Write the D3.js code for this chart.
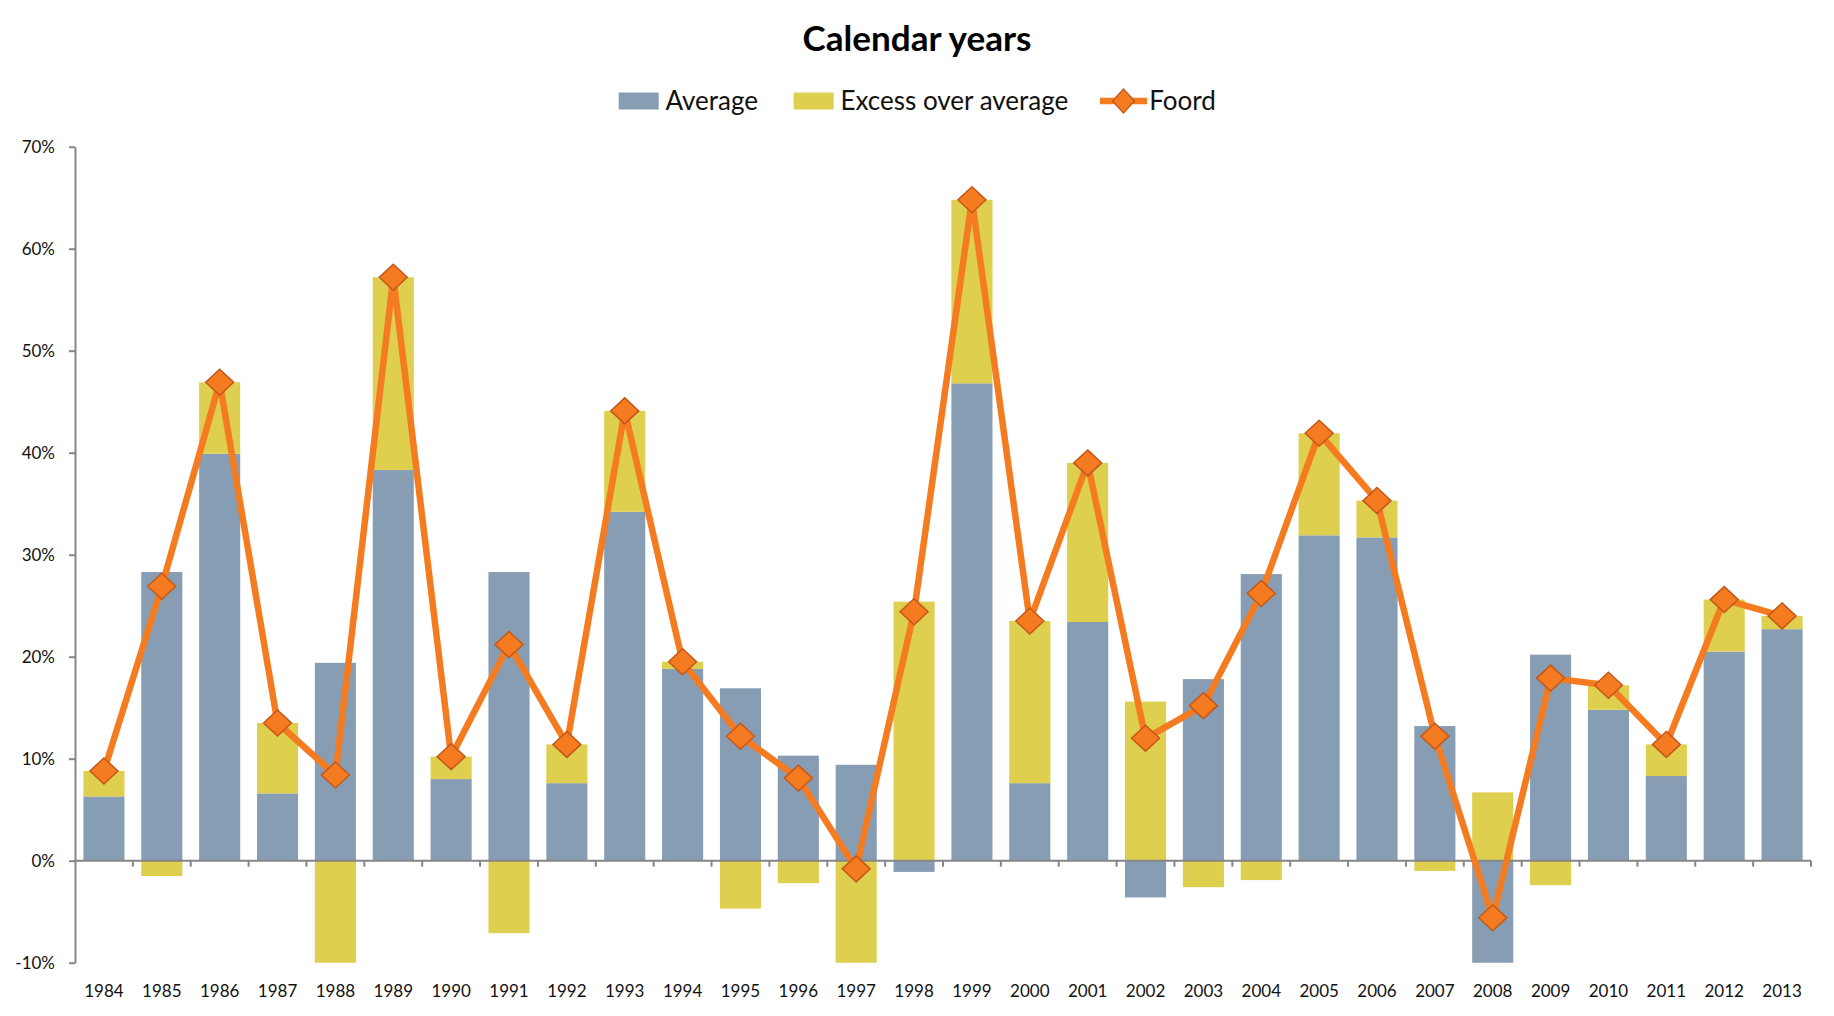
<!DOCTYPE html>
<html><head><meta charset="utf-8">
<script src="https://cdn.jsdelivr.net/npm/d3@7"></script>
<style>body{margin:0;background:#fff} svg{display:block}</style>
</head><body><svg id="chart" width="1834" height="1016"></svg>
<script>
const years = ["1984","1985","1986","1987","1988","1989","1990","1991","1992","1993","1994","1995","1996","1997","1998","1999","2000","2001","2002","2003","2004","2005","2006","2007","2008","2009","2010","2011","2012","2013"];
const average = [6.3, 28.3, 39.9, 6.6, 19.4, 38.3, 8.0, 28.3, 7.6, 34.2, 18.8, 16.9, 10.3, 9.4, -1.1, 46.8, 7.6, 23.4, -3.6, 17.8, 28.1, 31.9, 31.7, 13.2, -12.3, 20.2, 14.8, 8.3, 20.5, 22.7];
const excess = [2.5, -1.5, 7.0, 6.9, -11.0, 18.9, 2.2, -7.1, 3.8, 9.9, 0.7, -4.7, -2.2, -10.2, 25.4, 18.0, 15.9, 15.6, 15.6, -2.6, -1.9, 10.0, 3.6, -1.0, 6.7, -2.4, 2.4, 3.1, 5.1, 1.3];
const foord = [8.8, 26.9, 46.9, 13.5, 8.4, 57.2, 10.2, 21.2, 11.4, 44.1, 19.5, 12.2, 8.1, -0.8, 24.4, 64.8, 23.5, 39.0, 12.0, 15.2, 26.2, 41.9, 35.3, 12.2, -5.6, 17.9, 17.2, 11.4, 25.6, 24.0];
const yTickValues = [-10, 0, 10, 20, 30, 40, 50, 60, 70];
const seriesNames = ["Average", "Excess over average", "Foord"];
const titleText = "Calendar years";

const colAvg = "#879db3", colExc = "#dfcf4e", colLine = "#f47b20", colMarkerStroke = "#c4581a", colAxis = "#868686";
const FONT = "Lato, 'Open Sans', sans-serif";

const svg = d3.select("#chart");
const plotL = 75, plotR = 1811, plotT = 146.7, plotB = 962.7;

const x = d3.scaleBand().domain(years).range([plotL, plotR]).paddingInner(0.29).paddingOuter(0.145);
const y = d3.scaleLinear().domain([-10, 70]).range([plotB, plotT]);

svg.append("defs").append("clipPath").attr("id", "plotclip")
  .append("rect").attr("x", plotL).attr("y", plotT).attr("width", plotR - plotL).attr("height", plotB - plotT);

// Title (font size fitted to the reference title width)
const title = svg.append("text").attr("x", 917).attr("y", 51).attr("text-anchor", "middle")
  .attr("font-family", FONT).attr("font-weight", "bold").attr("font-size", 30).attr("fill", "#000")
  .text(titleText);
const tw = title.node().getComputedTextLength();
title.attr("font-size", Math.min(40, 30 * 229 / tw));

// Bars
const rows = years.map((yr, i) => ({year: yr, average: average[i], excess: excess[i]}));
const stacked = d3.stack().keys(["average", "excess"]).offset(d3.stackOffsetDiverging)(rows);
const fills = {average: colAvg, excess: colExc};
const barG = svg.append("g").attr("clip-path", "url(#plotclip)");
barG.selectAll("g.layer").data(stacked).join("g").attr("class", "layer")
  .attr("fill", d => fills[d.key])
  .selectAll("rect").data(d => d).join("rect")
  .attr("x", d => x(d.data.year))
  .attr("width", x.bandwidth())
  .attr("y", d => y(Math.max(d[0], d[1])))
  .attr("height", d => Math.abs(y(d[0]) - y(d[1])));

// Y axis
const yAxis = svg.append("g").attr("transform", `translate(${plotL},0)`)
  .call(d3.axisLeft(y).tickValues(yTickValues).tickFormat(d => d + "%").tickSizeInner(6).tickSizeOuter(0).tickPadding(14));
yAxis.select(".domain").attr("stroke", colAxis).attr("stroke-width", 2);
yAxis.selectAll(".tick line").attr("stroke", colAxis).attr("stroke-width", 2);
yAxis.selectAll(".tick text").attr("font-family", FONT).attr("font-size", 17).attr("fill", "#111");

// Zero line with category boundary ticks
const gap = (x.step() - x.bandwidth()) / 2;
const boundaries = years.map(yr => x(yr) - gap).concat([x(years[years.length - 1]) + x.bandwidth() + gap]);
const zeroG = svg.append("g");
zeroG.append("line").attr("x1", plotL).attr("x2", plotR).attr("y1", y(0)).attr("y2", y(0))
  .attr("stroke", colAxis).attr("stroke-width", 2);
zeroG.selectAll("line.bt").data(boundaries.slice(1)).join("line").attr("class", "bt")
  .attr("x1", d => d).attr("x2", d => d).attr("y1", y(0)).attr("y2", y(0) + 6)
  .attr("stroke", colAxis).attr("stroke-width", 2);

// X labels at the bottom
const xAxis = svg.append("g").attr("transform", `translate(0,${plotB})`)
  .call(d3.axisBottom(x).tickSize(0).tickPadding(22));
xAxis.select(".domain").remove();
xAxis.selectAll(".tick text").attr("font-family", FONT).attr("font-size", 17).attr("fill", "#111");

// Foord line
const cx = (d, i) => x(years[i]) + x.bandwidth() / 2;
svg.append("path").datum(foord)
  .attr("d", d3.line().x((d, i) => cx(d, i)).y(d => y(d)))
  .attr("fill", "none").attr("stroke", colLine).attr("stroke-width", 6.5).attr("stroke-linejoin", "round");
const diamond = (hw, hh) => `M0,${-hh}L${hw},0L0,${hh}L${-hw},0Z`;
svg.append("g").selectAll("path").data(foord).join("path")
  .attr("transform", (d, i) => `translate(${cx(d, i)},${y(d)})`)
  .attr("d", diamond(14, 13))
  .attr("fill", colLine).attr("stroke", colMarkerStroke).attr("stroke-width", 1.5);

// Legend
const leg = svg.append("g");
const legY = 101, legFont = 26;
const gaps = [35.6, 31.7, 0];
let lx = 618.7;
[["rect", colAvg], ["rect", colExc], ["line", colLine]].forEach((item, i) => {
  let sw;
  if (item[0] === "rect") {
    sw = 40;
    leg.append("rect").attr("x", lx).attr("y", legY - 8.5).attr("width", sw).attr("height", 17).attr("fill", item[1]);
  } else {
    sw = 47;
    leg.append("line").attr("x1", lx).attr("x2", lx + sw).attr("y1", legY).attr("y2", legY)
      .attr("stroke", colLine).attr("stroke-width", 6.5);
    leg.append("path").attr("transform", `translate(${lx + sw / 2},${legY})`).attr("d", diamond(11, 12))
      .attr("fill", colLine).attr("stroke", colMarkerStroke).attr("stroke-width", 1.3);
  }
  const tx = lx + sw + (item[0] === "rect" ? 6.8 : 2.2);
  const t = leg.append("text").attr("x", tx).attr("y", legY + 9)
    .attr("font-family", FONT).attr("font-size", legFont).attr("fill", "#111").text(seriesNames[i]);
  lx = tx + t.node().getComputedTextLength() + gaps[i];
});
</script>
</body></html>
